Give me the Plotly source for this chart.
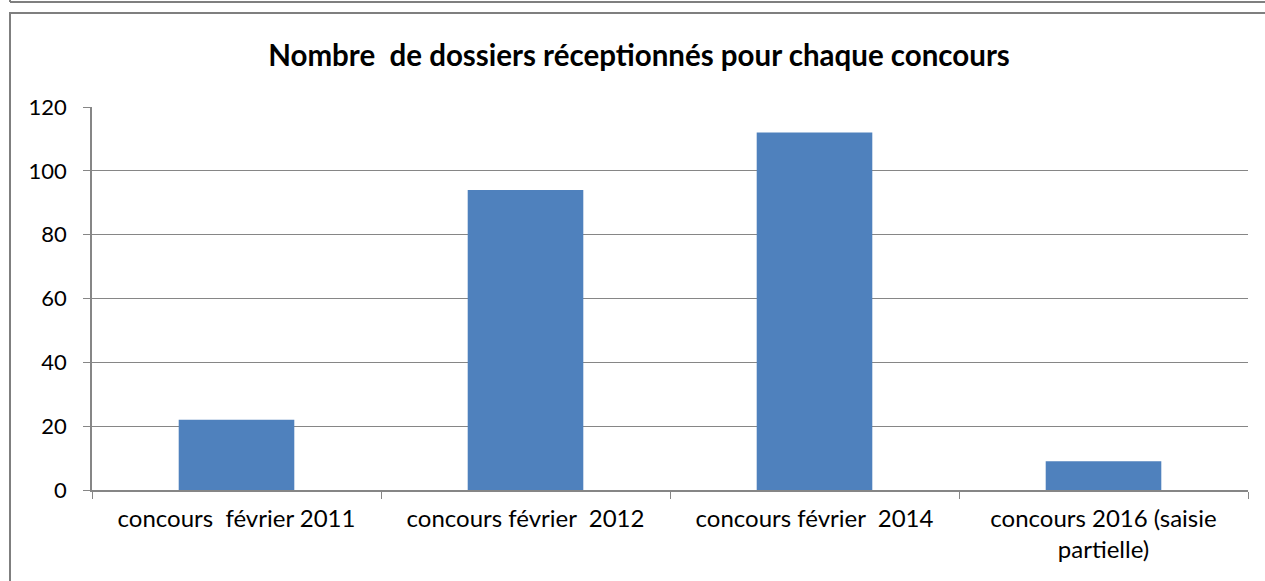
import plotly.graph_objects as go

categories = ["concours\u00a0 février 2011", "concours février\u00a0 2012",
              "concours février\u00a0 2014", "concours 2016 (saisie<br>partielle)"]
values = [22, 94, 112, 9]
y_ticks = [0, 20, 40, 60, 80, 100, 120]

W, H = 1265, 581
L, R, T, B = 92, 17, 107, 91
pw, ph = W - L - R, H - T - B

def px(x):
    return (x - L) / pw

def py(y):
    return (H - B - y) / ph

fig = go.Figure(go.Bar(x=categories, y=values, marker_color="#4F81BD",
                       marker_line_width=0, width=0.4))

grey = "#868686"
fig.update_layout(
    width=W, height=H,
    margin=dict(l=L, r=R, t=T, b=B),
    plot_bgcolor="white", paper_bgcolor="white",
    font=dict(family="Lato, Carlito, Calibri, sans-serif", size=22, color="black"),
    title=dict(text="<b>Nombre\u00a0 de dossiers réceptionnés pour chaque concours</b>",
               xref="container", yref="container",
               x=639 / W, xanchor="center", y=1 - 56 / H, yanchor="middle",
               font=dict(size=29.5)),
    showlegend=False,
    bargap=0.6,
    xaxis=dict(showline=True, linecolor=grey, linewidth=1.5, ticks="outside",
               tickson="boundaries", ticklen=7, tickcolor=grey, showgrid=False,
               tickfont=dict(size=24), ticklabelstandoff=6),
    yaxis=dict(range=[0, 120], tickvals=y_ticks, showline=True, linecolor=grey,
               linewidth=1.5, ticks="outside", ticklen=7, tickcolor=grey,
               showgrid=True, gridcolor=grey, gridwidth=1, zeroline=False,
               ticklabelstandoff=12, tickfont=dict(size=22)),
    shapes=[
        dict(type="rect", xref="paper", yref="paper", x0=px(10), x1=px(1275),
             y0=py(13), y1=py(600), line=dict(color="#7F7F7F", width=2),
             fillcolor="rgba(0,0,0,0)", layer="below"),
        dict(type="line", xref="paper", yref="paper", x0=px(10), x1=px(1275),
             y0=py(2), y1=py(2), line=dict(color="#7F7F7F", width=2)),
        dict(type="line", xref="paper", yref="paper", x0=px(10), x1=px(10),
             y0=py(-10), y1=py(2), line=dict(color="#7F7F7F", width=2)),
    ],
)

fig.write_html("out.html", config={"displayModeBar": False},
               post_script="document.body.style.margin='0';")
